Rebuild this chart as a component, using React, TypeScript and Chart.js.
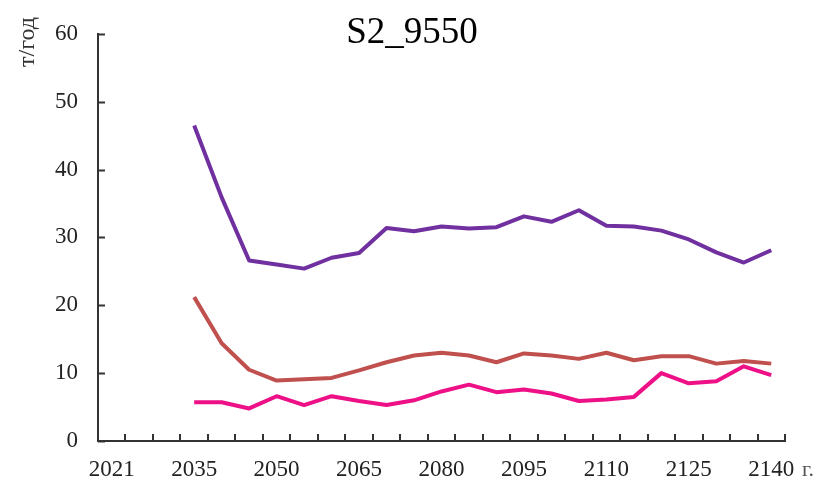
import React, { useEffect, useRef } from "react";
import { Chart, registerables } from "chart.js";

Chart.register(...registerables);

const years = [
  "2021", "2025", "2030", "2035", "2040", "2045", "2050", "2055", "2060", "2065",
  "2070", "2075", "2080", "2085", "2090", "2095", "2100", "2105", "2110", "2115",
  "2120", "2125", "2130", "2135", "2140",
];

const purpleSeries = [
  null, null, null, 46.5, 35.9, 26.6, 26.0, 25.4, 27.0, 27.7, 31.4, 30.9, 31.6, 31.3,
  31.5, 33.1, 32.3, 34.0, 31.7, 31.6, 31.0, 29.7, 27.8, 26.3, 28.1,
];

const brownSeries = [
  null, null, null, 21.2, 14.4, 10.5, 8.9, 9.1, 9.3, 10.4, 11.6, 12.6, 13.0, 12.6,
  11.6, 12.9, 12.6, 12.1, 13.0, 11.9, 12.5, 12.5, 11.4, 11.8, 11.4,
];

const pinkSeries = [
  null, null, null, 5.7, 5.7, 4.8, 6.6, 5.3, 6.6, 5.9, 5.3, 6.0, 7.3, 8.3,
  7.2, 7.6, 7.0, 5.9, 6.1, 6.5, 10.0, 8.5, 8.8, 11.0, 9.7,
];

const titleText = "S2_9550";
const yAxisTitle = "т/год";
const xAxisUnit = "г.";

const FONT = "'Liberation Serif', 'Times New Roman', serif";
const AXIS_COLOR = "#333333";

const decorPlugin = {
  id: "decor",
  afterDraw(chart: any) {
    const ctx = chart.ctx;
    const xs = chart.scales.x;
    const ys = chart.scales.y;
    const area = chart.chartArea;
    ctx.save();
    ctx.strokeStyle = AXIS_COLOR;
    ctx.lineWidth = 2;
    for (let v = 0; v <= 60; v += 10) {
      const py = Math.round(ys.getPixelForValue(v)) + 0.5;
      ctx.beginPath();
      ctx.moveTo(area.left, py);
      ctx.lineTo(area.left + 7, py);
      ctx.stroke();
    }
    const n = years.length;
    const step = (xs.right - xs.left) / n;
    for (let i = 1; i <= n; i++) {
      const px = Math.round(xs.left + i * step);
      ctx.beginPath();
      ctx.moveTo(px, area.bottom);
      ctx.lineTo(px, area.bottom - 7);
      ctx.stroke();
    }
    ctx.fillStyle = "#000000";
    ctx.font = `37px ${FONT}`;
    ctx.textAlign = "center";
    ctx.textBaseline = "alphabetic";
    ctx.fillText(titleText, 412, 43);
    ctx.save();
    ctx.translate(34, 42);
    ctx.rotate(-Math.PI / 2);
    ctx.font = `24px ${FONT}`;
    ctx.fillStyle = "#333333";
    ctx.textAlign = "center";
    ctx.textBaseline = "alphabetic";
    ctx.fillText(yAxisTitle, 0, 0);
    ctx.restore();
    ctx.font = `22px ${FONT}`;
    ctx.fillStyle = "#555555";
    ctx.textAlign = "left";
    ctx.textBaseline = "alphabetic";
    ctx.fillText(xAxisUnit, 802, 476);
    ctx.restore();
  },
};

export default function App() {
  const ref = useRef<HTMLCanvasElement | null>(null);

  useEffect(() => {
    if (!ref.current) return;
    const chart = new Chart(ref.current, {
      type: "line",
      data: {
        labels: years,
        datasets: [
          {
            label: "1",
            data: purpleSeries,
            borderColor: "#7030A0",
            backgroundColor: "#7030A0",
            borderWidth: 4,
            pointRadius: 0,
            tension: 0,
            borderJoinStyle: "round",
          },
          {
            label: "2",
            data: brownSeries,
            borderColor: "#C0504D",
            backgroundColor: "#C0504D",
            borderWidth: 4,
            pointRadius: 0,
            tension: 0,
            borderJoinStyle: "round",
          },
          {
            label: "3",
            data: pinkSeries,
            borderColor: "#EE1087",
            backgroundColor: "#EE1087",
            borderWidth: 4,
            pointRadius: 0,
            tension: 0,
            borderJoinStyle: "round",
          },
        ],
      },
      options: {
        responsive: false,
        animation: false,
        layout: { padding: { left: 0, right: 41, top: 33, bottom: 0 } },
        plugins: {
          legend: { display: false },
          title: { display: false },
          tooltip: { enabled: false },
        },
        scales: {
          x: {
            type: "category",
            offset: true,
            grid: { display: false, drawTicks: false, offset: true },
            border: { display: true, color: AXIS_COLOR, width: 2 },
            ticks: {
              autoSkip: false,
              maxRotation: 0,
              minRotation: 0,
              padding: 15,
              color: "#222222",
              font: { family: FONT, size: 23 },
              callback: (_v: any, i: number) => (i % 3 === 0 ? years[i] : ""),
            },
            afterFit: (s: any) => {
              s.height = 40;
            },
          },
          y: {
            min: 0,
            max: 60,
            grid: { display: false, drawTicks: false },
            border: { display: true, color: AXIS_COLOR, width: 2 },
            ticks: {
              stepSize: 10,
              padding: 20,
              color: "#222222",
              font: { family: FONT, size: 23 },
            },
            afterFit: (s: any) => {
              s.width = 98;
            },
          },
        },
      },
      plugins: [decorPlugin],
    });
    return () => chart.destroy();
  }, []);

  return (
    <div style={{ position: "absolute", left: 0, top: 0, width: 826, height: 481, background: "#fff" }}>
      <canvas ref={ref} width={826} height={481} />
    </div>
  );
}
